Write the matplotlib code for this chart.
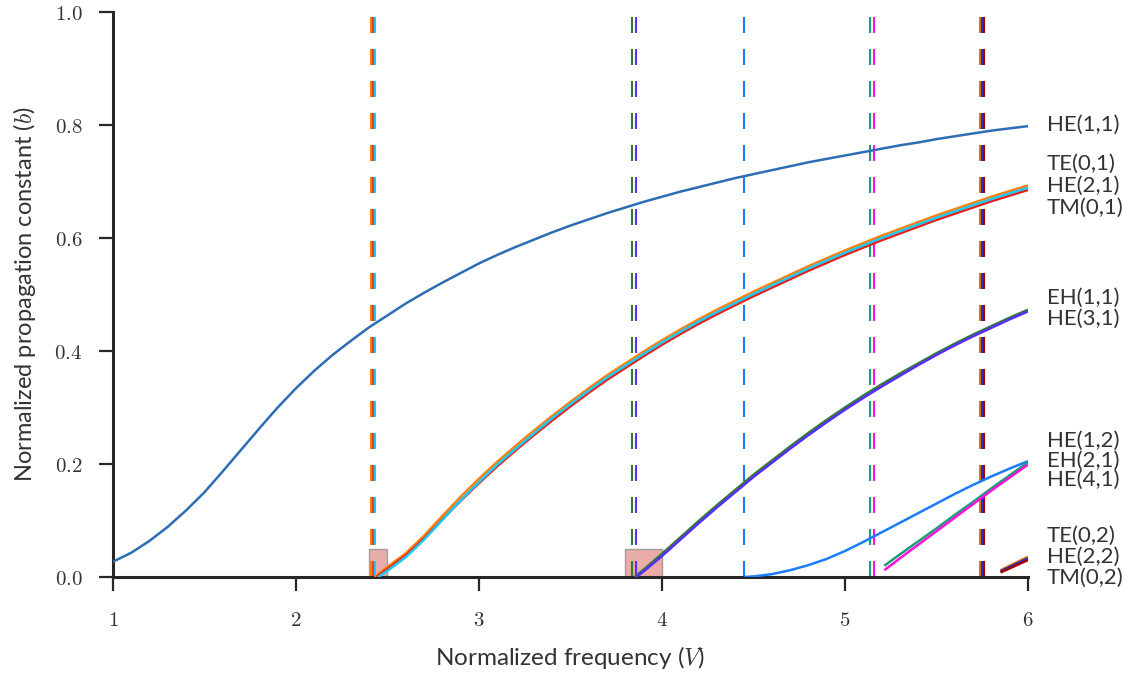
import matplotlib
matplotlib.use("Agg")
import matplotlib.pyplot as plt
from matplotlib.patches import Rectangle
from matplotlib.ticker import FuncFormatter

plt.rcParams['mathtext.fontset'] = 'cm'
plt.rcParams['font.family'] = ['Lato', 'DejaVu Sans']

# ---------------- data ----------------
V_HE11 = [1.0, 1.1, 1.2, 1.3, 1.4, 1.5, 1.6, 1.7, 1.8, 1.9, 2.0, 2.1, 2.2, 2.3, 2.4, 2.5,
          2.6, 2.7, 2.8, 2.9, 3.0, 3.1, 3.2, 3.3, 3.4, 3.5, 3.6, 3.7, 3.8, 3.9, 4.0,
          4.1, 4.2, 4.3, 4.4, 4.5, 4.6, 4.7, 4.8, 4.9, 5.0, 5.1, 5.2, 5.3, 5.4, 5.5,
          5.6, 5.7, 5.8, 5.9, 6.0]
b_HE11 = [0.027, 0.043, 0.064, 0.089, 0.118, 0.150, 0.187, 0.225, 0.263, 0.300, 0.334,
          0.365, 0.393, 0.418, 0.442, 0.463, 0.484, 0.503, 0.521, 0.538, 0.555, 0.570,
          0.584, 0.597, 0.610, 0.622, 0.633, 0.644, 0.654, 0.664, 0.673, 0.682, 0.690,
          0.698, 0.706, 0.713, 0.720, 0.727, 0.734, 0.740, 0.746, 0.752, 0.758, 0.764,
          0.769, 0.775, 0.780, 0.785, 0.790, 0.794, 0.798]

V_TE01 = [2.43, 2.5, 2.6, 2.7, 2.8, 2.9, 3.0, 3.1, 3.2, 3.3, 3.4, 3.5, 3.6, 3.7, 3.8, 3.9,
          4.0, 4.1, 4.2, 4.3, 4.4, 4.5, 4.6, 4.7, 4.8, 4.9, 5.0, 5.1, 5.2, 5.3, 5.4, 5.5,
          5.6, 5.7, 5.8, 5.9, 6.0]
b_TE01 = [0.000, 0.018, 0.042, 0.073, 0.108, 0.142, 0.174, 0.204, 0.232, 0.259, 0.285,
          0.310, 0.334, 0.357, 0.378, 0.399, 0.419, 0.438, 0.456, 0.473, 0.489, 0.505,
          0.520, 0.535, 0.550, 0.564, 0.578, 0.591, 0.604, 0.616, 0.628, 0.640, 0.651,
          0.662, 0.673, 0.683, 0.693]
V_HE21 = [2.45, 2.5, 2.6, 2.7, 2.8, 2.9, 3.0, 3.1, 3.2, 3.3, 3.4, 3.5, 3.6, 3.7, 3.8, 3.9,
          4.0, 4.1, 4.2, 4.3, 4.4, 4.5, 4.6, 4.7, 4.8, 4.9, 5.0, 5.1, 5.2, 5.3, 5.4, 5.5,
          5.6, 5.7, 5.8, 5.9, 6.0]
b_HE21 = [0.000, 0.011, 0.035, 0.066, 0.101, 0.136, 0.168, 0.199, 0.227, 0.254, 0.281,
          0.306, 0.330, 0.353, 0.374, 0.395, 0.415, 0.434, 0.452, 0.469, 0.485, 0.501,
          0.516, 0.531, 0.546, 0.560, 0.574, 0.587, 0.600, 0.612, 0.624, 0.636, 0.647,
          0.658, 0.669, 0.679, 0.689]
V_TM01 = [2.44, 2.5, 2.6, 2.7, 2.8, 2.9, 3.0, 3.1, 3.2, 3.3, 3.4, 3.5, 3.6, 3.7, 3.8, 3.9,
          4.0, 4.1, 4.2, 4.3, 4.4, 4.5, 4.6, 4.7, 4.8, 4.9, 5.0, 5.1, 5.2, 5.3, 5.4, 5.5,
          5.6, 5.7, 5.8, 5.9, 6.0]
b_TM01 = [0.000, 0.014, 0.038, 0.068, 0.102, 0.135, 0.166, 0.196, 0.224, 0.251, 0.277,
          0.302, 0.326, 0.349, 0.370, 0.391, 0.411, 0.430, 0.448, 0.465, 0.481, 0.497,
          0.512, 0.527, 0.542, 0.556, 0.570, 0.583, 0.596, 0.608, 0.620, 0.632, 0.643,
          0.654, 0.665, 0.675, 0.685]

V_EH11 = [3.85, 3.9, 4.0, 4.1, 4.2, 4.3, 4.4, 4.5, 4.6, 4.7, 4.8, 4.9, 5.0, 5.1, 5.2,
          5.3, 5.4, 5.5, 5.6, 5.7, 5.8, 5.9, 6.0]
b_EH11 = [0.000, 0.013, 0.041, 0.070, 0.099, 0.127, 0.154, 0.181, 0.206, 0.231, 0.255,
          0.278, 0.300, 0.321, 0.341, 0.360, 0.378, 0.396, 0.413, 0.429, 0.444, 0.459, 0.473]
V_HE31 = [3.86, 3.9, 4.0, 4.1, 4.2, 4.3, 4.4, 4.5, 4.6, 4.7, 4.8, 4.9, 5.0, 5.1, 5.2,
          5.3, 5.4, 5.5, 5.6, 5.7, 5.8, 5.9, 6.0]
b_HE31 = [0.000, 0.010, 0.037, 0.066, 0.095, 0.123, 0.150, 0.177, 0.202, 0.227, 0.251,
          0.274, 0.296, 0.317, 0.337, 0.356, 0.375, 0.393, 0.410, 0.426, 0.441, 0.456, 0.470]

V_HE12 = [4.45, 4.5, 4.6, 4.7, 4.8, 4.9, 5.0, 5.1, 5.2, 5.3, 5.4, 5.5, 5.6, 5.7, 5.8, 5.9, 6.0]
b_HE12 = [0.000, 0.001, 0.005, 0.012, 0.021, 0.032, 0.046, 0.062, 0.079, 0.096, 0.113,
          0.130, 0.147, 0.163, 0.178, 0.192, 0.205]

V_21 = [5.215, 5.3, 5.4, 5.5, 5.6, 5.7, 5.8, 5.9, 6.0]
b_EH21 = [0.020, 0.040, 0.063, 0.086, 0.110, 0.133, 0.157, 0.180, 0.203]
b_HE41 = [0.012, 0.033, 0.057, 0.081, 0.105, 0.129, 0.153, 0.176, 0.199]

V_02 = [5.85, 6.0]
b_TE02 = [0.012, 0.036]
b_HE22 = [0.010, 0.033]
b_TM02 = [0.008, 0.030]

# cutoff positions (dashed lines) and their colors
cutoffs = [2.410, 2.421, 2.432, 3.836, 3.858, 4.448, 5.137, 5.158, 5.738, 5.749, 5.760]
cutoff_colors = ['#ff7f0e', '#e8401c', '#20c8f0', '#2e7d32', '#5b2cff', '#1a7dff',
                 '#16a07a', '#ff10e0', '#d87c00', '#2a2ad0', '#a00000']

# zoom boxes (V start, width, b height)
boxes = [(2.40, 0.097, 0.05), (3.80, 0.20, 0.05)]

labels = ['HE(1,1)', 'TE(0,1)', 'HE(2,1)', 'TM(0,1)', 'EH(1,1)', 'HE(3,1)',
          'HE(1,2)', 'EH(2,1)', 'HE(4,1)', 'TE(0,2)', 'HE(2,2)', 'TM(0,2)']
label_b = [0.800, 0.731, 0.692, 0.653, 0.494, 0.457, 0.241, 0.205, 0.172, 0.073, 0.035, -0.002]

# ---------------- figure ----------------
fig = plt.figure(figsize=(11.34, 6.77), dpi=100)
ax = fig.add_axes([0.0996, 0.1477, 0.8069, 0.8346])

for x0, w, h in boxes:
    ax.add_patch(Rectangle((x0, 0.0), w, h, facecolor='#e9aca8', edgecolor='#a0a0a0',
                           lw=1.0, zorder=1))

for vc, c in zip(cutoffs, cutoff_colors):
    ax.axvline(vc, color=c, lw=1.5, linestyle=(0, (7.68, 7.68)), zorder=2)

series = [
    (V_HE11, b_HE11, '#2d6db4'),
    (V_TE01, b_TE01, '#ff7f0e'),
    (V_TM01, b_TM01, '#e8201c'),
    (V_HE21, b_HE21, '#20c8f0'),
    (V_EH11, b_EH11, '#2e7d32'),
    (V_HE31, b_HE31, '#5b2cff'),
    (V_HE12, b_HE12, '#1a7dff'),
    (V_21, b_EH21, '#16a07a'),
    (V_21, b_HE41, '#ff10e0'),
    (V_02, b_TE02, '#d87c00'),
    (V_02, b_HE22, '#2a2ad0'),
    (V_02, b_TM02, '#a00000'),
]
for v, b, c in series:
    ax.plot(v, b, color=c, lw=1.8, zorder=3, solid_capstyle='butt')

for lab, yb in zip(labels, label_b):
    ax.text(6.104, yb, lab, ha='left', va='center', fontsize=16, color='#333333')

ax.set_xlim(1, 6)
ax.set_ylim(0, 1.0)
ax.set_xticks([1, 2, 3, 4, 5, 6])
ax.set_yticks([0.0, 0.2, 0.4, 0.6, 0.8, 1.0])
ax.xaxis.set_major_formatter(FuncFormatter(lambda v, p: f'${v:g}$'))
ax.yaxis.set_major_formatter(FuncFormatter(lambda v, p: f'${v:.1f}$'))

for s in ['top', 'right']:
    ax.spines[s].set_visible(False)
for s in ['left', 'bottom']:
    ax.spines[s].set_linewidth(2.2)
    ax.spines[s].set_color('#262626')
ax.tick_params(axis='both', direction='out', length=10, width=1.6, color='#262626',
               labelsize=15, labelcolor='#333333')
ax.tick_params(axis='x', pad=14)
ax.tick_params(axis='y', pad=12)

ax.set_xlabel('Normalized frequency ($V$)', fontsize=17.5, color='#333333', labelpad=10)
ax.set_ylabel('Normalized propagation constant ($b$)', fontsize=17, color='#333333', labelpad=12)

fig.savefig('out.png', dpi=100)
